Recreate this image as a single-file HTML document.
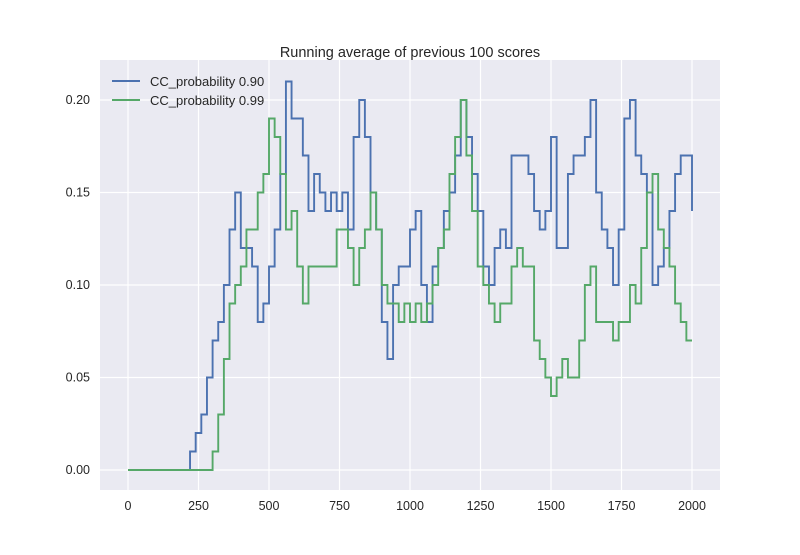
<!DOCTYPE html>
<html><head><meta charset="utf-8"><style>
body{margin:0;background:#fff;}
svg text{font-family:"Liberation Sans",sans-serif;fill:#262626;}
</style></head><body>
<svg id="chart" width="800" height="550">
<rect x="100" y="60" width="620" height="430" fill="#eaeaf2"/>
<g id="grid"></g><g id="ticks"></g><g id="series"></g>
<text x="410" y="57" text-anchor="middle" font-size="14.5">Running average of previous 100 scores</text>
<g>
<line x1="112" y1="81" x2="140" y2="81" stroke="#4c72b0" stroke-width="2"/>
<text x="150" y="86" font-size="13">CC_probability 0.90</text>
<line x1="112" y1="100" x2="140" y2="100" stroke="#55a868" stroke-width="2"/>
<text x="150" y="105" font-size="13">CC_probability 0.99</text>
</g>
</svg>
<script>
const episodes=[];for(let e=0;e<=2000;e+=20)episodes.push(e);
const blueVals=[0,0,0,0,0,0,0,0,0,0,0,1,2,3,5,7,8,10,13,15,12,12,11,8,9,11,13,16,21,19,19,17,14,16,15,14,15,14,15,13,18,20,18,15,13,8,6,10,11,11,13,14,10,8,11,12,14,15,17,20,18,16,14,11,10,12,13,12,17,17,17,16,14,13,14,18,12,12,16,17,17,18,20,15,13,12,10,13,19,20,17,16,15,10,11,12,14,16,17,17,14];
const greenVals=[0,0,0,0,0,0,0,0,0,0,0,0,0,0,0,1,3,6,9,10,11,13,13,15,16,19,18,16,13,14,11,9,11,11,11,11,11,13,13,12,10,12,13,15,13,10,9,9,8,9,8,9,8,9,10,12,13,16,18,20,17,14,11,10,9,8,9,9,11,12,11,11,7,6,5,4,5,6,5,5,7,10,11,8,8,8,7,8,8,10,9,12,15,16,13,12,11,9,8,7,7];
const xTicks=[0,250,500,750,1000,1250,1500,1750,2000];
const yTicks=[0,0.05,0.10,0.15,0.20];
const sx=e=>128+e*0.282;
const sy=v=>470-v*1850;
const NS="http://www.w3.org/2000/svg";
const grid=document.getElementById('grid'),ticks=document.getElementById('ticks'),ser=document.getElementById('series');
xTicks.forEach(t=>{
 const l=document.createElementNS(NS,'line');
 l.setAttribute('x1',sx(t));l.setAttribute('x2',sx(t));l.setAttribute('y1',60);l.setAttribute('y2',490);
 l.setAttribute('stroke','#fff');l.setAttribute('stroke-width','1.2');
 
 
 grid.appendChild(l);
 const tx=document.createElementNS(NS,'text');
 tx.setAttribute('x',sx(t));tx.setAttribute('y',510);tx.setAttribute('text-anchor','middle');tx.setAttribute('font-size','12.5');
 tx.textContent=t;
 
 
 ticks.appendChild(tx);
});
yTicks.forEach(t=>{
 const l=document.createElementNS(NS,'line');
 l.setAttribute('x1',100);l.setAttribute('x2',720);l.setAttribute('y1',sy(t));l.setAttribute('y2',sy(t));
 l.setAttribute('stroke','#fff');l.setAttribute('stroke-width','1.2');
 
 
 grid.appendChild(l);
 const tx=document.createElementNS(NS,'text');
 tx.setAttribute('x',90);tx.setAttribute('y',sy(t)+4);tx.setAttribute('text-anchor','end');tx.setAttribute('font-size','12.5');
 tx.textContent=t.toFixed(2);
 
 
 ticks.appendChild(tx);
});
function stepPath(vals,color,name){
 let d='';
 vals.forEach((v,i)=>{
  const x=sx(episodes[i]),y=sy(v/100);
  if(i===0)d+='M'+x+' '+y;else d+=' H'+x+' V'+y;
 });
 const p=document.createElementNS(NS,'path');
 p.setAttribute('d',d);p.setAttribute('fill','none');p.setAttribute('stroke',color);p.setAttribute('stroke-width','1.9');
 
 
 ser.appendChild(p);
}
stepPath(blueVals,'#4c72b0','series-cc-090');
stepPath(greenVals,'#55a868','series-cc-099');
</script>
</body></html>
